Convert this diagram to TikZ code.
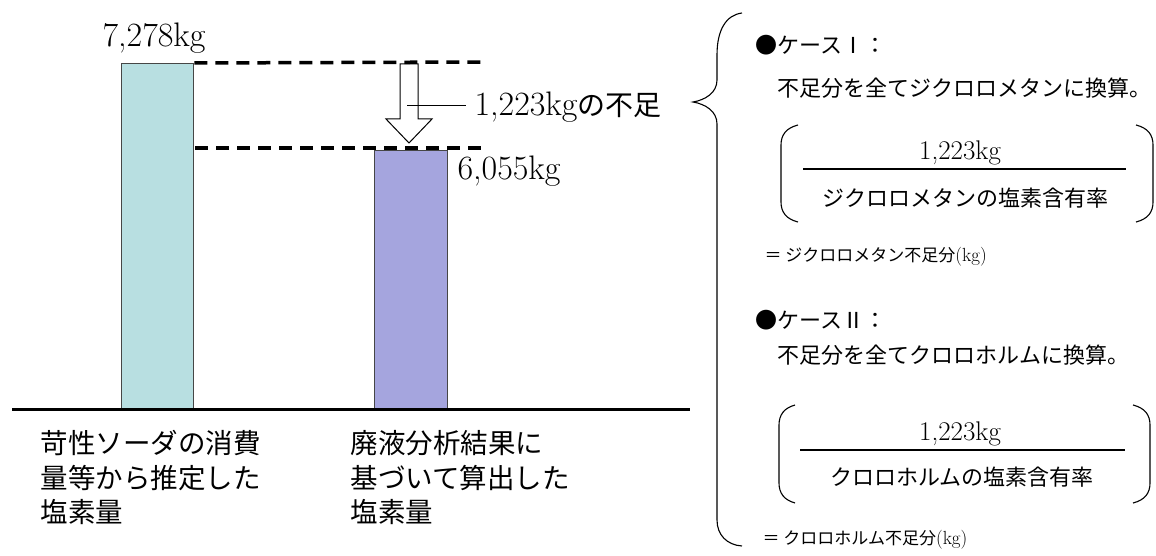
\documentclass[tikz,border=0pt]{standalone}
\usepackage{fontspec}
\newfontfamily\cjk{Noto Sans CJK JP}
\definecolor{barcyan}{RGB}{184,223,225}
\definecolor{barblue}{RGB}{165,165,222}
\definecolor{barline}{RGB}{70,70,70}
\begin{document}
\begin{tikzpicture}[x=1pt,y=-1pt,line width=1.1pt,
  bar/.style={draw=barline, line width=1.3pt, inner sep=0pt, anchor=north west},
  dashline/.style={line width=3.5pt, dash pattern=on 13pt off 8pt},
  num/.style={font=\fontsize{34}{40}\selectfont, inner sep=0pt, anchor=west},
  lab/.style={font=\cjk\fontsize{27.5}{34.5}\selectfont, align=left, inner sep=0pt, anchor=north west},
  head/.style={font=\cjk\fontsize{22}{26}\selectfont, inner sep=0pt, anchor=west},
  fnum/.style={font=\fontsize{27}{32}\selectfont, inner sep=0pt},
  fden/.style={font=\cjk\fontsize{22}{26}\selectfont, inner sep=0pt},
  eqtext/.style={font=\cjk\fontsize{17}{20}\selectfont, inner sep=0pt, anchor=west}]
\path[use as bounding box] (0,0) rectangle (1156,556);

% bars
\node[bar, fill=barcyan, minimum width=72pt, minimum height=346pt] (barA) at (121,63) {};
\node[bar, fill=barblue, minimum width=73pt, minimum height=259pt] (barB) at (374,150) {};

% baseline
\coordinate (b0) at (12,409);
\coordinate (b1) at (690,409);
\draw[line width=3pt] (b0) -- (b1);

% arrow
\draw[fill=white, line width=1pt] (400,64) -- (418,64) -- (418,119) -- (432,119) -- (409,143) -- (386,119) -- (400,119) -- cycle;

% dashed lines
\coordinate (dAe) at (483,62);
\coordinate (dBs) at (195,148);
\coordinate (dBe) at (483,148);
\draw[dashline] (barA.north east) -- (dAe);
\draw[dashline] (dBs) -- (dBe);

% labels
\node[num] (n7278) at (102,38) {7,278kg};
\node[num] (n6055) at (457,171) {6,055kg};
\node[inner sep=0pt, anchor=west] (lbl) at (474,107) {\fontsize{34}{40}\selectfont 1,223kg{\cjk\fontsize{28}{32}\selectfont の不足}};
\coordinate (lp) at (407,106);
\draw[line width=1pt] (lp) -- ([xshift=-8pt]lp -| lbl.west);

\node[lab] (labA) at (40,430) {苛性ソーダの消費\\量等から推定した\\塩素量};
\node[lab] (labB) at (350,430) {廃液分析結果に\\基づいて算出した\\塩素量};

% big brace
\draw (742,13) .. controls (726,15) and (717,30) .. (717,55) -- (717,80)
  .. controls (717,93) and (705,100) .. (693,102)
  .. controls (705,104) and (717,111) .. (717,124) -- (717,520)
  .. controls (717,535) and (727,545) .. (742,546);

% case I
\node[head] (c1) at (755,45) {●ケースⅠ：};
\node[head] (c1t) at (777,88) {不足分を全てジクロロメタンに換算。};
\node[fnum] (f1n) at (960,153) {1,223kg};
\coordinate (f1a) at (803,169);
\coordinate (f1b) at (1126,169);
\draw (f1a) -- (f1b);
\node[fden] (f1d) at (965,198) {ジクロロメタンの塩素含有率};
\draw (798,125) .. controls (786,128) and (781,135) .. (781,145) -- (781,202) .. controls (781,212) and (786,219) .. (798,222);
\draw (1136,125) .. controls (1148,128) and (1153,135) .. (1153,145) -- (1153,202) .. controls (1153,212) and (1148,219) .. (1136,222);
\node[eqtext] (e1) at (764,257) {＝ ジクロロメタン不足分{\rmfamily\fontsize{19}{20}\selectfont(kg)}};

% case II
\node[head] (c2) at (755,320) {●ケースⅡ：};
\node[head] (c2t) at (777,355) {不足分を全てクロロホルムに換算。};
\node[fnum] (f2n) at (960,434) {1,223kg};
\coordinate (f2a) at (800,450);
\coordinate (f2b) at (1125,450);
\draw (f2a) -- (f2b);
\node[fden] (f2d) at (962,477) {クロロホルムの塩素含有率};
\draw (795,405) .. controls (784,408) and (779,415) .. (779,425) -- (779,483) .. controls (779,493) and (784,500) .. (795,503);
\draw (1133,405) .. controls (1145,408) and (1150,415) .. (1150,425) -- (1150,483) .. controls (1150,493) and (1145,500) .. (1133,503);
\node[eqtext] (e2) at (762,540) {＝ クロロホルム不足分{\rmfamily\fontsize{19}{20}\selectfont(kg)}};
\end{tikzpicture}
\end{document}
